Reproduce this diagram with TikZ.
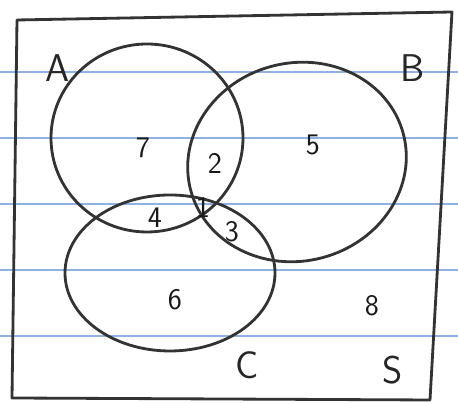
\documentclass[tikz,border=0pt]{standalone}
\usepackage{tikz}
\tikzset{
  every picture/.style={line join=round, line cap=round},
  pen/.style={draw=black!80, line width=1.6pt},
  ruling/.style={draw=cyan!55!blue!45, line width=0.8pt},
  setname/.style={font=\fontsize{22}{22}\selectfont\sffamily, text=black!85},
  count/.style={font=\fontsize{17}{17}\selectfont\sffamily, text=black!90},
}

\begin{document}
\begin{tikzpicture}[x=0.02cm,y=-0.02cm]
\useasboundingbox (0,0) rectangle (458,404);
% paper
\foreach \y in {72,138,204,270,336} {\draw[ruling] (0,\y) -- (458,\y);}
% S
\draw[pen] (17,20) -- (452,12) -- (430,400) -- (12,398) -- cycle;
% A, B, C
\draw[pen] (147,138) ellipse [x radius=96, y radius=94];
\draw[pen, rotate around={15:(297,162)}] (297,162) ellipse [x radius=110, y radius=99];
\draw[pen] (170,273) ellipse [x radius=105, y radius=78];
% names
\node[setname] (A) at (58,68) {A};
\node[setname] (B) at (413,68) {B};
\node[setname] (C) at (247,365) {C};
\node[setname] (S) at (393,370) {S};
% counts
\foreach \x/\y/\n in {143/148/7, 215/163/2, 313/145/5, 155/218/4, 203/207/1, 232/232/3, 175/300/6, 372/306/8}
  {\node[count] (n\n) at (\x,\y) {\n};}
\end{tikzpicture}
\end{document}
